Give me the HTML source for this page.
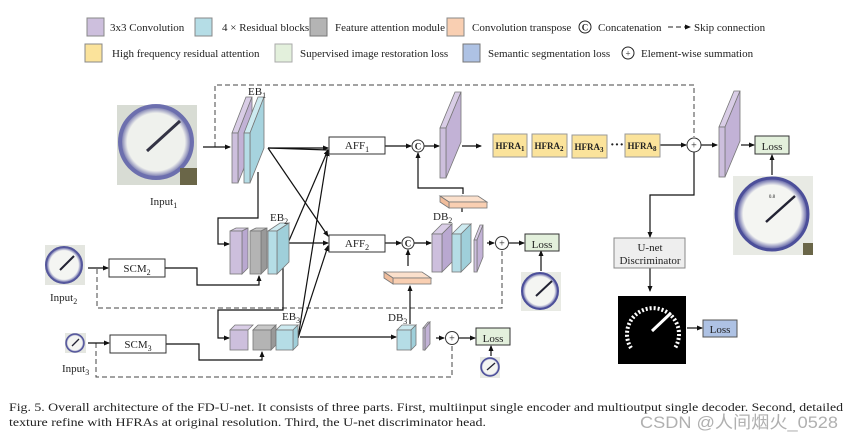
<!DOCTYPE html>
<html><head><meta charset="utf-8"><style>
html,body{margin:0;padding:0;background:#fff;}
svg{display:block;}
text{font-family:"Liberation Serif",serif;fill:#222;}
text.wm{font-family:"Liberation Sans","Noto Sans CJK SC",sans-serif;fill:#b0b0b0;}
</style></head><body>
<svg width="853" height="442" viewBox="0 0 853 442" xmlns="http://www.w3.org/2000/svg">
<defs>
<marker id="a" markerWidth="6" markerHeight="6" refX="5" refY="3" orient="auto" markerUnits="userSpaceOnUse"><path d="M0,0.5 L6,3 L0,5.5z" fill="#111"/></marker>
<radialGradient id="g1" cx="0.5" cy="0.5" r="0.5"><stop offset="0.8" stop-color="#f4f5f2"/><stop offset="1" stop-color="#4a4c9a"/></radialGradient>
</defs>

<!-- legend -->
<g font-size="11">
<rect x="87" y="18" width="17" height="18" fill="#cdbfdd" stroke="#888"/><text x="110" y="31">3x3 Convolution</text>
<rect x="195" y="18" width="17" height="18" fill="#b5dde6" stroke="#888"/><text x="222" y="31">4 × Residual blocks</text>
<rect x="310" y="18" width="17" height="18" fill="#b4b4b4" stroke="#777"/><text x="335" y="31">Feature attention module</text>
<rect x="447" y="18" width="17" height="18" fill="#f9cfb2" stroke="#888"/><text x="472" y="31">Convolution transpose</text>
<circle cx="585" cy="27" r="6" fill="#fff" stroke="#222"/><text x="585" y="30.5" font-size="9" text-anchor="middle" font-weight="bold">C</text><text x="598" y="31">Concatenation</text>
<line x1="668" y1="27" x2="690" y2="27" stroke="#222" stroke-dasharray="5,3" marker-end="url(#a)"/><text x="694" y="31">Skip connection</text>
<rect x="85" y="44" width="17" height="18" fill="#fbe39b" stroke="#888"/><text x="112" y="57">High frequency residual attention</text>
<rect x="275" y="44" width="17" height="18" fill="#e3f0dc" stroke="#aaa"/><text x="300" y="57">Supervised image restoration loss</text>
<rect x="463" y="44" width="17" height="18" fill="#aec2e4" stroke="#777"/><text x="488" y="57">Semantic segmentation loss</text>
<circle cx="628" cy="53" r="6" fill="#fff" stroke="#222"/><text x="628" y="56.5" font-size="9" text-anchor="middle">+</text><text x="641" y="57">Element-wise summation</text>
</g>

<!-- dashed skips -->
<g fill="none" stroke="#444" stroke-dasharray="5,3" stroke-width="1">
<polyline points="215,147 215,85 694,85 694,137"/>
<polyline points="97,269 97,308 502,308 502,250"/>
<polyline points="96,343 96,377 452,377 452,345"/>
</g>

<!-- input images -->
<rect x="117" y="105" width="80" height="80" fill="#d8dcd4"/>
<circle cx="156" cy="142" r="36" fill="url(#g1)" stroke="#5a5ca8" stroke-width="4" opacity="0.85"/>
<line x1="147" y1="151" x2="180" y2="121" stroke="#334" stroke-width="3"/>
<rect x="180" y="168" width="17" height="17" fill="#6a6648"/>
<text x="150" y="205" font-size="11">Input<tspan font-size="8" dy="3">1</tspan></text>

<rect x="45" y="245" width="40" height="40" fill="#e4e6e0"/>
<circle cx="64" cy="265" r="18" fill="url(#g1)" stroke="#55579c" stroke-width="2"/>
<line x1="60" y1="270" x2="74" y2="256" stroke="#223" stroke-width="2"/>
<text x="50" y="301" font-size="11">Input<tspan font-size="8" dy="3">2</tspan></text>

<rect x="65" y="333" width="21" height="20" fill="#e4e6e0"/>
<circle cx="75" cy="343" r="9" fill="url(#g1)" stroke="#55579c" stroke-width="1.5"/>
<line x1="72" y1="346" x2="79" y2="339" stroke="#223" stroke-width="1.3"/>
<text x="62" y="372" font-size="11">Input<tspan font-size="8" dy="3">3</tspan></text>

<!-- arrows -->
<g fill="none" stroke="#111" stroke-width="1.2">
<line x1="203" y1="147" x2="230" y2="147" marker-end="url(#a)"/>
<line x1="88" y1="268" x2="108" y2="268" marker-end="url(#a)"/>
<line x1="88" y1="343" x2="109" y2="343" marker-end="url(#a)"/>
<polyline points="165,268 197,268 197,285 259,285 259,276" marker-end="url(#a)"/>
<polyline points="166,344 199,344 199,360 262,360 262,352" marker-end="url(#a)"/>
<polyline points="258,172 258,218 218,218 218,244 229,244" marker-end="url(#a)"/>
<polyline points="283,268 283,310 218,310 218,338 229,338" marker-end="url(#a)"/>
<line x1="268" y1="148" x2="328" y2="148" marker-end="url(#a)"/>
<line x1="268" y1="148" x2="328" y2="236" marker-end="url(#a)"/>
<line x1="268" y1="148" x2="328" y2="150"/>
<line x1="287" y1="243" x2="328" y2="243" marker-end="url(#a)"/>
<line x1="288" y1="243" x2="328" y2="150" marker-end="url(#a)"/>
<line x1="298" y1="338" x2="328" y2="151" marker-end="url(#a)"/>
<line x1="298" y1="338" x2="328" y2="246" marker-end="url(#a)"/>
<line x1="300" y1="337" x2="396" y2="337" marker-end="url(#a)"/>
<line x1="385" y1="146" x2="411" y2="146" marker-end="url(#a)"/>
<line x1="385" y1="243" x2="401" y2="243" marker-end="url(#a)"/>
<line x1="424" y1="146" x2="439" y2="146" marker-end="url(#a)"/>
<line x1="462" y1="146" x2="481" y2="146" marker-end="url(#a)"/>
<line x1="414" y1="243" x2="431" y2="243" marker-end="url(#a)"/>
<polyline points="463,194 463,188 418,188 418,153" marker-end="url(#a)"/>
<line x1="462" y1="212" x2="462" y2="196" marker-end="url(#a)"/>
<line x1="408" y1="266" x2="408" y2="250" marker-end="url(#a)"/>
<line x1="410" y1="324" x2="410" y2="286" marker-end="url(#a)"/>
<line x1="487" y1="243" x2="494" y2="243" marker-end="url(#a)"/>
<line x1="509" y1="243" x2="524" y2="243" marker-end="url(#a)"/>
<line x1="436" y1="338" x2="444" y2="338" marker-end="url(#a)"/>
<line x1="459" y1="338" x2="475" y2="338" marker-end="url(#a)"/>
<line x1="541" y1="271" x2="541" y2="251" marker-end="url(#a)"/>
<line x1="491" y1="356" x2="491" y2="346" marker-end="url(#a)"/>
<line x1="660" y1="145" x2="686" y2="145" marker-end="url(#a)"/>
<line x1="701" y1="145" x2="717" y2="145" marker-end="url(#a)"/>
<line x1="741" y1="145" x2="754" y2="145" marker-end="url(#a)"/>
<line x1="772" y1="175" x2="772" y2="155" marker-end="url(#a)"/>
<polyline points="694,152 694,195 650,195 650,237" marker-end="url(#a)"/>
<line x1="650" y1="268" x2="650" y2="291" marker-end="url(#a)"/>
<line x1="687" y1="328" x2="702" y2="328" marker-end="url(#a)"/>
</g>

<!-- slabs/cubes -->
<g stroke="#777" stroke-width="0.8">
<polygon points="232,133 246,97 252,97 238,133" fill="#d9cde6"/><polygon points="238,133 252,97 252,148 238,183" fill="#c2b2d6"/><rect x="232" y="133" width="6" height="50" fill="#cdbfdd"/>
<polygon points="244,133 258,97 264,97 250,133" fill="#cdeaf0"/><polygon points="250,133 264,97 264,148 250,183" fill="#a6d3de"/><rect x="244" y="133" width="6" height="50" fill="#b5dde6"/>
<polygon points="440,128 455,92 461,92 446,128" fill="#d9cde6"/><polygon points="446,128 461,92 461,142 446,178" fill="#c2b2d6"/><rect x="440" y="128" width="6" height="50" fill="#cdbfdd"/>
<polygon points="719,127 734,91 740,91 725,127" fill="#d9cde6"/><polygon points="725,127 740,91 740,141 725,177" fill="#c2b2d6"/><rect x="719" y="127" width="6" height="50" fill="#cdbfdd"/>
<polygon points="230,231 236,228 248,228 242,231" fill="#d9cde6"/><polygon points="242,231 248,228 248,268 242,274" fill="#b9a8d0"/><rect x="230" y="231" width="12" height="43" fill="#cdbfdd"/>
<polygon points="250,231 256,228 267,228 261,231" fill="#c8c8c8"/><polygon points="261,231 267,228 267,268 261,274" fill="#999"/><rect x="250" y="231" width="11" height="43" fill="#b4b4b4"/>
<polygon points="268,231 280,223 289,223 277,231" fill="#cdeaf0"/><polygon points="277,231 289,223 289,262 277,274" fill="#9fcfda"/><rect x="268" y="231" width="9" height="43" fill="#b5dde6"/>
<polygon points="230,330 235,325 253,325 248,330" fill="#d9cde6"/><rect x="230" y="330" width="18" height="20" fill="#cdbfdd"/>
<polygon points="253,330 258,325 276,325 271,330" fill="#c8c8c8"/><polygon points="271,330 276,325 276,345 271,350" fill="#999"/><rect x="253" y="330" width="18" height="20" fill="#b4b4b4"/>
<polygon points="276,330 281,325 298,325 293,330" fill="#cdeaf0"/><polygon points="293,330 298,325 298,345 293,350" fill="#9fcfda"/><rect x="276" y="330" width="17" height="20" fill="#b5dde6"/>
<polygon points="432,234 442,224 452,224 442,234" fill="#d9cde6"/><polygon points="442,234 452,224 452,262 442,272" fill="#b9a8d0"/><rect x="432" y="234" width="10" height="38" fill="#cdbfdd"/>
<polygon points="452,234 462,224 471,224 461,234" fill="#cdeaf0"/><polygon points="461,234 471,224 471,262 461,272" fill="#9fcfda"/><rect x="452" y="234" width="9" height="38" fill="#b5dde6"/>
<polygon points="474,240 480,225 483,225 477,240" fill="#d9cde6"/><polygon points="477,240 483,225 483,257 477,272" fill="#c2b2d6"/><rect x="474" y="240" width="3" height="32" fill="#cdbfdd"/>
<polygon points="397,330 402,325 416,325 411,330" fill="#cdeaf0"/><polygon points="411,330 416,325 416,345 411,350" fill="#9fcfda"/><rect x="397" y="330" width="14" height="20" fill="#b5dde6"/>
<polygon points="423,328 428,322 430,322 425,328" fill="#d9cde6"/><polygon points="425,328 430,322 430,344 425,350" fill="#c2b2d6"/><rect x="423" y="328" width="2" height="22" fill="#cdbfdd"/>
<polygon points="440,196 478,196 487,202 449,202" fill="#fbe0cc"/><rect x="449" y="202" width="38" height="6" fill="#f9cfb2"/><polygon points="440,196 449,202 449,208 440,202" fill="#f0bd9c"/>
<polygon points="384,272 422,272 431,278 393,278" fill="#fbe0cc"/><rect x="393" y="278" width="38" height="6" fill="#f9cfb2"/><polygon points="384,272 393,278 393,284 384,278" fill="#f0bd9c"/>
</g>

<g font-size="11">
<text x="248" y="95">EB<tspan font-size="8" dy="3">1</tspan></text>
<text x="270" y="221">EB<tspan font-size="8" dy="3">2</tspan></text>
<text x="282" y="320">EB<tspan font-size="8" dy="3">3</tspan></text>
<text x="433" y="220">DB<tspan font-size="8" dy="3">2</tspan></text>
<text x="388" y="321">DB<tspan font-size="8" dy="3">3</tspan></text>
</g>

<g stroke="#333" stroke-width="1" font-size="11">
<rect x="109" y="259" width="56" height="18" fill="#fff"/><rect x="110" y="335" width="56" height="18" fill="#fff"/>
<rect x="329" y="137" width="56" height="17" fill="#fff"/><rect x="329" y="235" width="56" height="17" fill="#fff"/>
<rect x="493" y="134" width="34" height="23" fill="#fbe39b" stroke="#999"/>
<rect x="532" y="134" width="35" height="23" fill="#fbe39b" stroke="#999"/>
<rect x="572" y="135" width="35" height="23" fill="#fbe39b" stroke="#999"/>
<rect x="625" y="134" width="35" height="23" fill="#fbe39b" stroke="#999"/>
<rect x="525" y="234" width="34" height="17" fill="#e3f0dc"/>
<rect x="476" y="328" width="34" height="17" fill="#e3f0dc"/>
<rect x="755" y="136" width="34" height="18" fill="#e3f0dc"/>
<rect x="614" y="238" width="71" height="30" fill="#eee" stroke="#888"/>
<rect x="703" y="320" width="34" height="17" fill="#aec2e4" stroke="#555"/>
</g>
<g font-size="11" text-anchor="middle">
<text x="137" y="272">SCM<tspan font-size="8" dy="3">2</tspan></text>
<text x="138" y="348">SCM<tspan font-size="8" dy="3">3</tspan></text>
<text x="357" y="149">AFF<tspan font-size="8" dy="3">1</tspan></text>
<text x="357" y="247">AFF<tspan font-size="8" dy="3">2</tspan></text>
<text x="542" y="248">Loss</text><text x="493" y="342">Loss</text><text x="772" y="150">Loss</text><text x="720" y="333">Loss</text>
<text x="650" y="251">U-net</text><text x="650" y="264">Discriminator</text>
</g>
<g font-size="9" font-weight="bold" text-anchor="middle" fill="#333">
<text x="510" y="149">HFRA<tspan font-size="7" dy="2">1</tspan></text>
<text x="549" y="149">HFRA<tspan font-size="7" dy="2">2</tspan></text>
<text x="589" y="150">HFRA<tspan font-size="7" dy="2">3</tspan></text>
<text x="642" y="149">HFRA<tspan font-size="7" dy="2">8</tspan></text>
</g>
<text x="610" y="149" font-size="14" font-weight="bold">···</text>

<g fill="#fff" stroke="#333">
<circle cx="418" cy="146" r="6"/><circle cx="408" cy="243" r="6"/>
<circle cx="694" cy="145" r="7"/><circle cx="502" cy="243" r="6.5"/><circle cx="452" cy="338" r="6.5"/>
</g>
<g font-size="9" text-anchor="middle" font-weight="bold">
<text x="418" y="149.5">C</text><text x="408" y="246.5">C</text>
</g>
<g font-size="10" text-anchor="middle">
<text x="694" y="148.5">+</text><text x="502" y="246.5">+</text><text x="452" y="341.5">+</text>
</g>

<rect x="733" y="176" width="80" height="79" fill="#e8eae4"/>
<circle cx="772" cy="214" r="36" fill="url(#g1)" stroke="#4c4f9a" stroke-width="3"/>
<line x1="766" y1="222" x2="795" y2="196" stroke="#223" stroke-width="2.5"/>
<text x="772" y="198" font-size="5" text-anchor="middle">0.8</text>
<rect x="803" y="243" width="10" height="12" fill="#6a6648"/>
<rect x="521" y="272" width="40" height="39" fill="#e8eae4"/>
<circle cx="540" cy="291" r="18" fill="url(#g1)" stroke="#4c4f9a" stroke-width="2"/>
<line x1="536" y1="296" x2="552" y2="281" stroke="#223" stroke-width="2"/>
<rect x="480" y="357" width="20" height="21" fill="#e8eae4"/>
<circle cx="490" cy="367" r="9" fill="url(#g1)" stroke="#4c4f9a" stroke-width="1.5"/>
<line x1="487" y1="370" x2="495" y2="363" stroke="#223" stroke-width="1.3"/>

<rect x="618" y="296" width="68" height="68" fill="#000"/>
<path d="M631,348 A26,26 0 1 1 675,348" fill="none" stroke="#fff" stroke-width="4" stroke-dasharray="2,2"/>
<line x1="652" y1="331" x2="671" y2="313" stroke="#fff" stroke-width="3"/>

<g font-size="11.3">
<text x="9" y="411" textLength="834" lengthAdjust="spacingAndGlyphs">Fig. 5.   Overall architecture of the FD-U-net. It consists of three parts. First, multiinput single encoder and multioutput single decoder. Second, detailed</text>
<text x="9" y="426" textLength="477" lengthAdjust="spacingAndGlyphs">texture refine with HFRAs at original resolution. Third, the U-net discriminator head.</text>
</g>
<text class="wm" x="640" y="428" font-size="17" textLength="198" lengthAdjust="spacingAndGlyphs">CSDN @人间烟火_0528</text>
</svg>
</body></html>
